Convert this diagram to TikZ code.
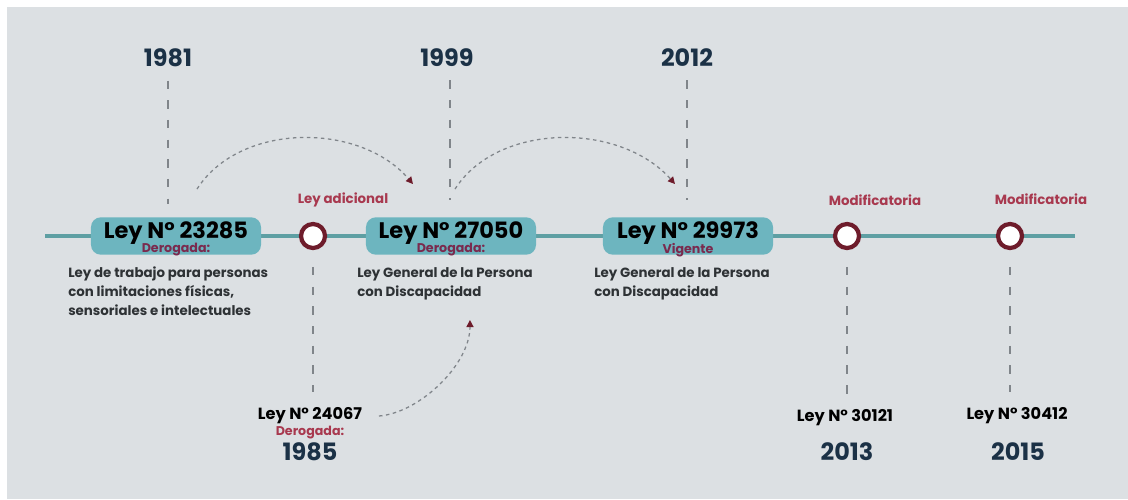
\documentclass[tikz,border=0pt]{standalone}
\usepackage{fontspec}
\setmainfont{Poppins}
\usetikzlibrary{arrows.meta}

\definecolor{fondo}{HTML}{DCE0E3}
\definecolor{linea}{HTML}{5E9FA3}
\definecolor{caja}{HTML}{6DB5BF}
\definecolor{vino}{HTML}{6E1C2B}
\definecolor{rojo}{HTML}{A8394F}
\definecolor{morado}{HTML}{7A2A4E}
\definecolor{azul}{HTML}{1B3146}
\definecolor{guia}{HTML}{80858A}
\definecolor{texto}{HTML}{2E3235}

\tikzset{
  ley/.style={fill=caja, rounded corners=7pt, minimum width=4.25cm, minimum height=0.9cm,
    text height=0.4cm, text depth=0.3cm, font=\fontsize{16}{18}\selectfont\bfseries},
  estado/.style={text=rojo, font=\fontsize{9}{10}\selectfont\bfseries},
  tipo/.style={text=rojo, font=\fontsize{9.5}{11}\selectfont\bfseries},
  hito/.style={circle, draw=vino, line width=3pt, fill=white, minimum size=0.6cm, inner sep=0pt},
  anio/.style={text=azul, font=\fontsize{17}{19}\selectfont\bfseries},
  norma/.style={font=\fontsize{11.5}{13}\selectfont\bfseries},
  desc/.style={text=texto, align=left, anchor=north west, inner sep=0pt,
    font=\fontsize{9.5}{13.5}\selectfont\bfseries},
  guia/.style={draw=guia, line width=1.4pt, dash pattern=on 6pt off 8pt},
  salto/.style={draw=guia, line width=0.9pt, dash pattern=on 2.5pt off 2.5pt,
    -{Triangle[length=5pt,width=5pt,color=vino]}},
}

\begin{document}
\begin{tikzpicture}[x=0.025cm,y=-0.025cm]
  \fill[white] (0,0) rectangle (1128,499);
  \fill[fondo] (7,7) rectangle (1128,499);

  \coordinate (i) at (45,236);
  \coordinate (f) at (1075,236);
  \draw[linea, line width=2.8pt] (i) -- (f);

  \node[ley] (b1) at (176,236) {Ley N° 23285};
  \node[ley] (b2) at (451,236) {Ley N° 27050};
  \node[ley] (b3) at (688,236) {Ley N° 29973};
  \node[estado, text=morado] (e1) at (176,250) {Derogada:};
  \node[estado, text=morado] (e2) at (451,250) {Derogada:};
  \node[estado, text=morado] (e3) at (688,250) {Vigente};

  \node[hito] (c1) at (313,236) {};
  \node[hito] (c2) at (847,236) {};
  \node[hito] (c3) at (1010,236) {};
  \node[tipo] (t1) at (343,200) {Ley adicional};
  \node[tipo] (t2) at (875,200) {Modificatoria};
  \node[tipo] (t3) at (1041,199) {Modificatoria};

  \node[anio] (a1) at (168,58) {1981};
  \node[anio] (a2) at (447,58) {1999};
  \node[anio] (a3) at (687,58) {2012};
  \draw[guia, shorten <=6pt, shorten >=9pt] (a1.south) -- (a1.south |- b1.north);
  \draw[guia, shorten <=6pt, shorten >=12pt] ([xshift=2.1pt]a2.south) -- ([xshift=2.1pt]a2.south |- b2.north);
  \draw[guia, shorten <=6pt, shorten >=12pt] (a3.south) -- (a3.south |- b3.north);

  \node[desc] (d1) at (68,267) {Ley de trabajo para personas\\con limitaciones físicas,\\sensoriales e intelectuales};
  \node[desc] (d2) at (357,267) {Ley General de la Persona\\con Discapacidad};
  \node[desc] (d3) at (594,267) {Ley General de la Persona\\con Discapacidad};

  \node[norma] (n1) at (310,416) {Ley N° 24067};
  \node[estado] (n1e) at (310,433) {Derogada:};
  \node[anio] (n1a) at (310,452) {1985};
  \node[norma] (n2) at (845,418) {Ley N° 30121};
  \node[anio] (n2a) at (847,452) {2013};
  \node[norma] (n3) at (1017,416) {Ley N° 30412};
  \node[anio] (n3a) at (1018,452) {2015};
  \draw[guia, shorten <=12pt, shorten >=8pt] (c1.south) -- (c1.south |- n1.north);
  \draw[guia, shorten <=12pt, shorten >=8pt] (c2.south) -- (c2.south |- n2.north);
  \draw[guia, shorten <=12pt, shorten >=8pt] (c3.south) -- (c3.south |- n3.north);

  \draw[salto] ([shift={(21,-28)}]b1.north) .. controls +(43,-67) and +(-53,-62) .. ([shift={(-38,-33)}]b2.north);
  \draw[salto] ([shift={(4,-28)}]b2.north) .. controls +(43,-67) and +(-55,-62) .. ([shift={(-13,-33)}]b3.north);
  \draw[salto] ([xshift=8.5pt]n1.east) .. controls +(40,-3) and +(0,45) .. ([shift={(25,20)}]d2.south);
\end{tikzpicture}
\end{document}
